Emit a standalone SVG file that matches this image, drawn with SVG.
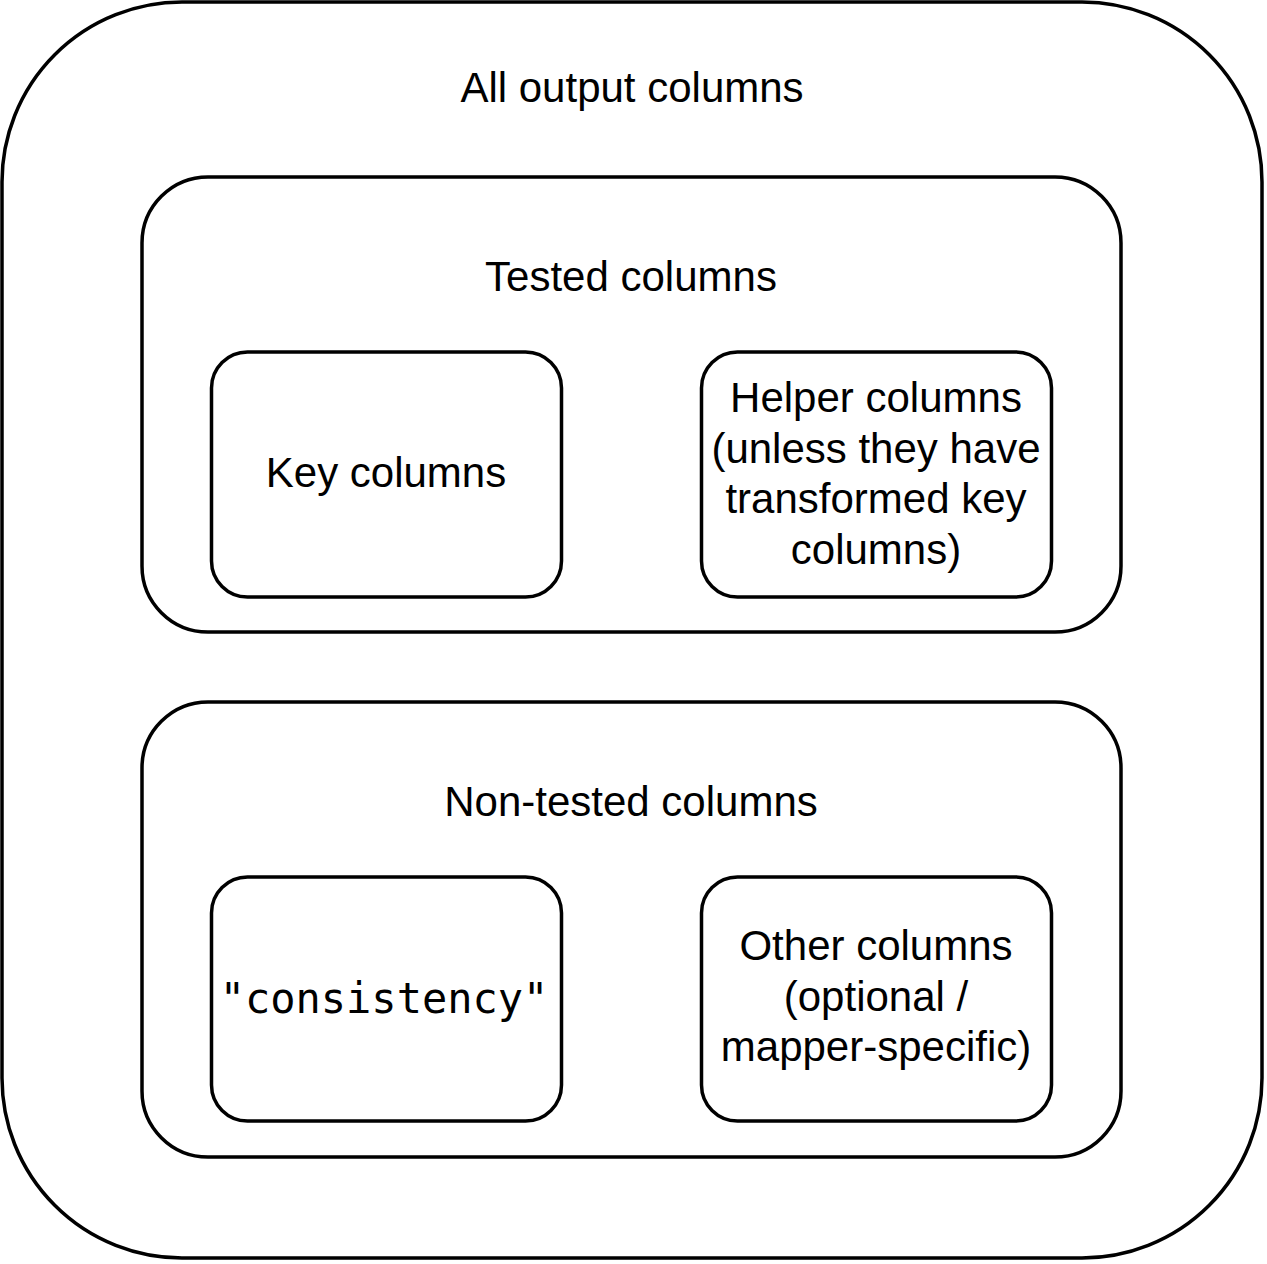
<svg xmlns="http://www.w3.org/2000/svg" width="1267" height="1264" viewBox="0 0 1267 1264">
<style>
.box{fill:#ffffff;stroke:#000000;stroke-width:3.5}
.lbl{font-family:"Liberation Sans",Arial,Helvetica,sans-serif;font-size:42px;fill:#000000;text-anchor:middle}
.mono{font-family:"DejaVu Sans Mono","Liberation Mono",monospace;font-size:42px;fill:#000000;text-anchor:middle}
</style>
<rect x="0" y="0" width="1267" height="1264" fill="#ffffff"/>
<g id="all-output-columns">
<rect class="box" x="2" y="2" width="1260" height="1256" rx="180" ry="180"/>
<text class="lbl" x="632" y="102">All output columns</text>
</g>
<g id="tested-columns">
<rect class="box" x="142" y="177" width="979" height="455" rx="66" ry="66"/>
<text class="lbl" x="631" y="291">Tested columns</text>
</g>
<g id="key-columns">
<rect class="box" x="211.5" y="352" width="350" height="245" rx="36" ry="36"/>
<text class="lbl" x="386" y="487">Key columns</text>
</g>
<g id="helper-columns">
<rect class="box" x="701.5" y="352" width="350" height="245" rx="36" ry="36"/>
<text class="lbl" x="876" y="412">Helper columns</text>
<text class="lbl" x="876" y="462.5">(unless they have</text>
<text class="lbl" x="876" y="513">transformed key</text>
<text class="lbl" x="876" y="563.5">columns)</text>
</g>
<g id="non-tested-columns">
<rect class="box" x="142" y="702" width="979" height="455" rx="66" ry="66"/>
<text class="lbl" x="631" y="816">Non-tested columns</text>
</g>
<g id="consistency">
<rect class="box" x="211.5" y="877" width="350" height="244" rx="36" ry="36"/>
<text class="mono" x="384" y="1013">"consistency"</text>
</g>
<g id="other-columns">
<rect class="box" x="701.5" y="877" width="350" height="244" rx="36" ry="36"/>
<text class="lbl" x="876" y="960">Other columns</text>
<text class="lbl" x="876" y="1011">(optional /</text>
<text class="lbl" x="876" y="1061">mapper-specific)</text>
</g>
<g id="connectors"></g>
</svg>
